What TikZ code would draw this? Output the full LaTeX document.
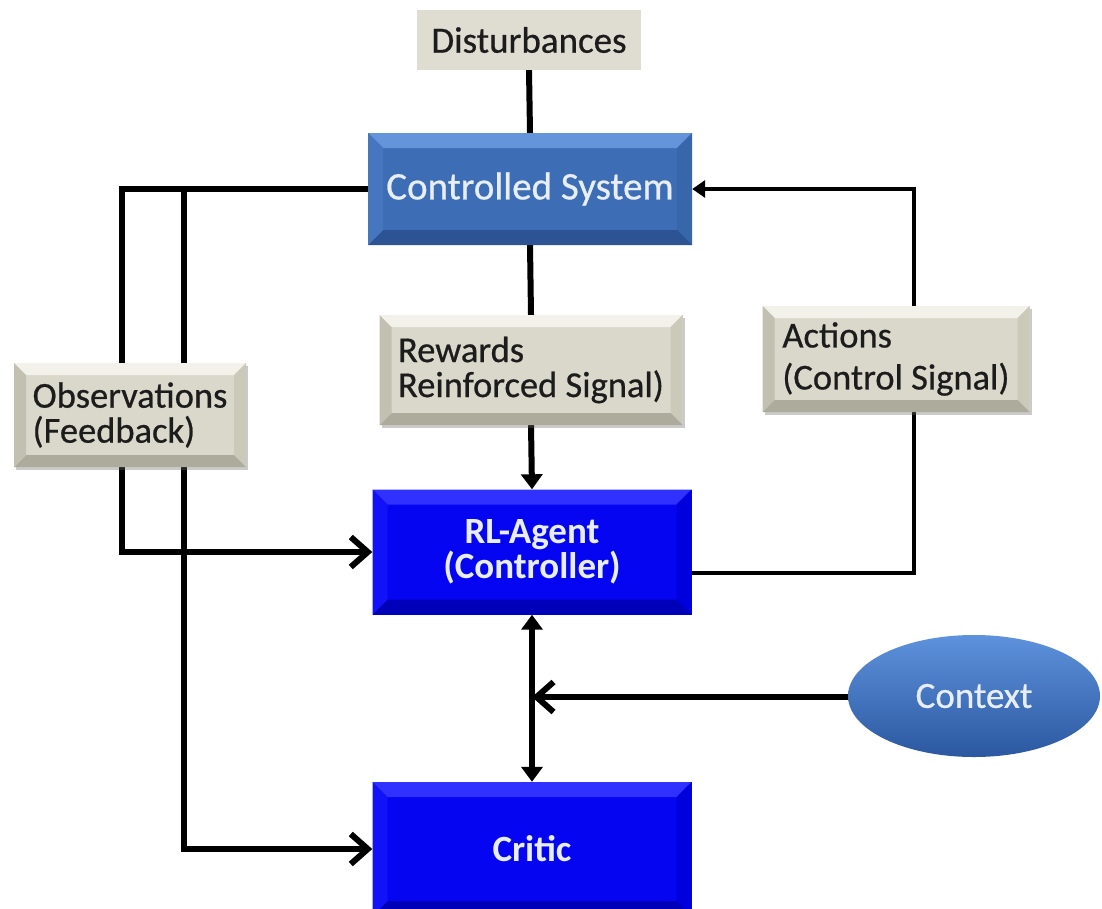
\documentclass[tikz,border=0pt]{standalone}
\usepackage{fontspec}
\setmainfont{Carlito}[UprightFeatures={FakeBold=0.6}]
\usetikzlibrary{arrows.meta,shapes.geometric,shadows,backgrounds}
\definecolor{beige}{HTML}{D9D8CA}
\definecolor{beigetop}{HTML}{F2F1EA}
\definecolor{beigeright}{HTML}{CBCABA}
\definecolor{beigebot}{HTML}{ADAC9C}
\definecolor{beigeleft}{HTML}{C2C1B1}
\definecolor{distfill}{HTML}{DFDDD1}
\definecolor{steel}{HTML}{3D6DB5}
\definecolor{steeltop}{HTML}{6494DA}
\definecolor{steelright}{HTML}{3766AA}
\definecolor{steelbot}{HTML}{2C5494}
\definecolor{steelleft}{HTML}{4676BE}
\definecolor{vivid}{HTML}{0505F2}
\definecolor{vividtop}{HTML}{3030FF}
\definecolor{vividright}{HTML}{0000DC}
\definecolor{vividbot}{HTML}{0000B8}
\definecolor{vividleft}{HTML}{1212F8}
\definecolor{ctxtop}{HTML}{5E92DC}
\definecolor{ctxmid}{HTML}{3F72BE}
\definecolor{ctxbot}{HTML}{2B58A0}
\definecolor{lighttext}{HTML}{E8EEF7}
\definecolor{darktext}{HTML}{1C1C1C}
\tikzset{
  bevel/.style n args={5}{path picture={
    \fill[#2] (path picture bounding box.north west) -- (path picture bounding box.north east)
      -- ([xshift=-#1,yshift=-#1]path picture bounding box.north east)
      -- ([xshift=#1,yshift=-#1]path picture bounding box.north west) -- cycle;
    \fill[#3] (path picture bounding box.north east) -- (path picture bounding box.south east)
      -- ([xshift=-#1,yshift=#1]path picture bounding box.south east)
      -- ([xshift=-#1,yshift=-#1]path picture bounding box.north east) -- cycle;
    \fill[#4] (path picture bounding box.south east) -- (path picture bounding box.south west)
      -- ([xshift=#1,yshift=#1]path picture bounding box.south west)
      -- ([xshift=-#1,yshift=#1]path picture bounding box.south east) -- cycle;
    \fill[#5] (path picture bounding box.south west) -- (path picture bounding box.north west)
      -- ([xshift=#1,yshift=-#1]path picture bounding box.north west)
      -- ([xshift=#1,yshift=#1]path picture bounding box.south west) -- cycle;
  }},
  labelbox/.style={rectangle, inner sep=0pt, fill=beige, text=darktext, align=left,
    bevel={12pt}{beigetop}{beigeright}{beigebot}{beigeleft},
    drop shadow={shadow xshift=2pt, shadow yshift=-3pt, opacity=0.35, fill=black!60},
    font=\fontsize{36.5}{35}\selectfont},
  sysbox/.style={rectangle, inner sep=0pt, fill=steel, text=lighttext,
    bevel={15pt}{steeltop}{steelright}{steelbot}{steelleft},
    font=\fontsize{39}{40}\selectfont},
  agentbox/.style={rectangle, inner sep=0pt, fill=vivid, text=lighttext, align=center,
    bevel={15pt}{vividtop}{vividright}{vividbot}{vividleft},
    font=\bfseries\fontsize{37}{33}\selectfont},
  thickline/.style={line width=6pt, draw=black, line join=miter},
  thinline/.style={line width=4.5pt, draw=black, line join=miter},
  barb/.style={-{Straight Barb[length=17pt,width=30pt,line width=6pt]}},
  tri/.style={-{Triangle[length=15pt,width=21pt]}},
  smalltri/.style={-{Triangle[length=13pt,width=17pt]}},
  dtri/.style={{Triangle[length=15pt,width=21pt]}-{Triangle[length=15pt,width=21pt]}},
}
\begin{document}
\begin{tikzpicture}[x=1pt,y=-1pt]
\useasboundingbox (0,0) rectangle (1102,908);
% nodes
\node[rectangle, inner sep=0pt, fill=distfill, text=darktext, minimum width=224pt, minimum height=60pt,
      font=\fontsize{37}{40}\selectfont] (dist) at (529,40) {Disturbances};
\node[sysbox, minimum width=324pt, minimum height=112pt] (cs) at (530,189) {Controlled System};
\node[labelbox, minimum width=303pt, minimum height=110pt] (rew) at (531,370) {Rewards\\Reinforced Signal)};
\node[labelbox, minimum width=232pt, minimum height=104pt] (obs) at (130,415) {Observations\\(Feedback)};
\node[labelbox, minimum width=267pt, minimum height=106pt, font=\fontsize{36.5}{42}\selectfont] (act) at (896,359) {Actions\\(Control Signal)};
\node[agentbox, minimum width=319pt, minimum height=125pt] (rl) at (532,552) {RL-Agent\\(Controller)};
\node[agentbox, minimum width=319pt, minimum height=134pt] (critic) at (532,849) {Critic};
\node[ellipse, inner sep=0pt, minimum width=252pt, minimum height=122pt, top color=ctxtop, middle color=ctxmid, bottom color=ctxbot,
      text=lighttext, font=\fontsize{37}{40}\selectfont] (ctx) at (974,696) {Context};
% helper coordinates
\coordinate (obsA) at (122,189);
\coordinate (obsB) at (184,189);
\coordinate (obsC) at (122,552);
\coordinate (obsD) at (184,849);
\coordinate (actA) at (914,573);
\coordinate (actB) at (914,189);
\coordinate (ctxjoin) at (532,697);
% connectors behind the boxes
\begin{pgfonlayer}{background}
\draw[thickline] (dist.south) -- (cs.north);
\draw[thickline] (cs.south) -- (rew.north);
\draw[thickline, tri] (rew.south) -- (rl.north);
\draw[thickline, barb] (cs.west) -- (obsA) -- (obsC) -- (rl.west);
\draw[thickline, barb] (obsB) -- (obsD) -- (critic.west);
\draw[thinline, smalltri] (rl.east |- actA) -- (actA) -- (actB) -- (cs.east);
\draw[thickline, dtri] (rl.south) -- (critic.north);
\draw[thickline, barb] (ctx.west |- ctxjoin) -- (ctxjoin);
\end{pgfonlayer}
\end{tikzpicture}
\end{document}
